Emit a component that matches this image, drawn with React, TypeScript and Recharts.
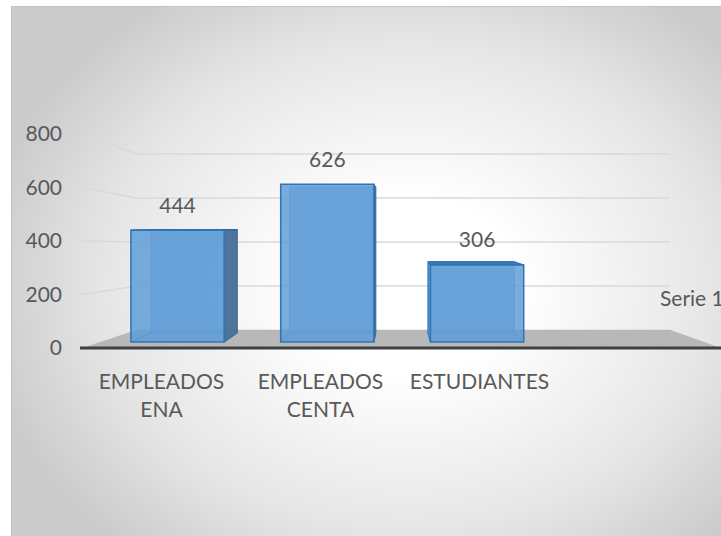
import { BarChart, Bar, XAxis, YAxis, CartesianGrid, LabelList } from 'recharts';

if (typeof document !== 'undefined') document.body.style.margin = '0';

const categories = ['EMPLEADOS ENA', 'EMPLEADOS CENTA', 'ESTUDIANTES'];
const values = [444, 626, 306];
const yTicks = [0, 200, 400, 600, 800];
const seriesName = 'Serie 1';

const data = categories.map((name, i) => ({ name, value: values[i] }));

const FONT = 'Lato, "Open Sans", sans-serif';
const TEXT = '#595959';

// rough perspective of the excel 3d chart
const front = (x: number, y: number) => ({ x: 438 + (x - 438) * 0.942, y: 245 + (y - 245) * 0.942 });
const back = (p: { x: number; y: number }) => ({ x: 398 + (p.x - 398) * 0.925, y: 222 + (p.y - 222) * 0.925 });
const wallY = (y: number) => 241.5 + (y - 240.5) * 0.822;

const pts = (arr: { x: number; y: number }[]) => arr.map((p) => `${p.x},${p.y}`).join(' ');

function renderBox(props: any) {
  const { x, y, width, height } = props;
  if (height == null || height <= 0) return <g />;
  const tl = front(x, y);
  const tr = front(x + width, y);
  const br = front(x + width, y + height);
  const bl = front(x, y + height);
  const btl = back(tl);
  const btr = back(tr);
  const bbr = back(br);
  const bbl = back(bl);
  const edge = '#3a7cc0';
  return (
    <g>
      <polygon points={pts([btl, btr, bbr, bbl])} fill="#6fa6dc" stroke={edge} strokeWidth={1} opacity={0.6} />
      <line x1={bl.x} y1={bl.y} x2={bbl.x} y2={bbl.y} stroke={edge} strokeWidth={1} />
      <line x1={br.x} y1={br.y} x2={bbr.x} y2={bbr.y} stroke={edge} strokeWidth={1} />
      {tr.x < 398 && (
        <polygon points={pts([tr, btr, bbr, br])} fill="#4f7399" stroke="#3f6a95" strokeWidth={1} />
      )}
      {tl.x > 398 && (
        <polygon points={pts([tl, btl, bbl, bl])} fill="#5b9bd5" stroke="#2e75b6" strokeWidth={1} />
      )}
      {tl.y > 222 && (
        <polygon points={pts([tl, tr, btr, btl])} fill="#3f78b5" stroke="#2f6aa8" strokeWidth={1} />
      )}
      <polygon points={pts([tl, tr, br, bl])} fill="#5b9bd5" fillOpacity={0.82} stroke="#2e75b6" strokeWidth={1.5} />
    </g>
  );
}

function renderValueLabel(props: any) {
  const { x, y, width, value } = props;
  const p = front(x + width / 2, y);
  return (
    <text x={p.x} y={p.y - 25} dy="0.36em" textAnchor="middle" fill={TEXT} fontFamily={FONT} fontSize={21}>
      {value}
    </text>
  );
}

function renderGridLine(props: any) {
  const { x1, x2, y1, index } = props;
  const by = wallY(y1);
  const bx1 = x1 + 55;
  const bx2 = x2 - 48;
  if (y1 >= 347) {
    return (
      <g key={`g-${index}`}>
        <polygon points={`${x1},${y1} ${bx1},${by} ${bx2},${by} ${x2 + 3},${y1}`} fill="#b8b8b8" />
        <line x1={x1 - 2} y1={y1} x2={x2 + 3} y2={y1} stroke="#404040" strokeWidth={3} />
        <text x={660} y={306} fill={TEXT} fontFamily={FONT} fontSize={21}>
          {seriesName}
        </text>
      </g>
    );
  }
  return (
    <polyline
      key={`g-${index}`}
      points={`${x1},${y1} ${bx1},${by} ${bx2},${by}`}
      fill="none"
      stroke="#d9d9d9"
      strokeWidth={1.5}
    />
  );
}

function renderCategoryTick(props: any) {
  const { x, y, payload } = props;
  const lines = String(payload.value).split(' ');
  return (
    <text x={x} y={y} textAnchor="middle" fill={TEXT} fontFamily={FONT} fontSize={21}>
      {lines.map((l, i) => (
        <tspan key={i} x={x} dy={i === 0 ? 33 : 28}>
          {l}
        </tspan>
      ))}
    </text>
  );
}

export default function App() {
  return (
    <div style={{ position: 'relative', width: 721, height: 536, overflow: 'hidden' }}>
      <div
        style={{
          position: 'absolute',
          left: 11,
          top: 6,
          width: 721,
          height: 536,
          borderLeft: '1px solid #c4c4c4',
          borderTop: '1px solid #c4c4c4',
          background: 'radial-gradient(ellipse 60% 65% at 55% 52%, #ffffff 25%, #e6e6e6 70%, #cbcbcb 100%)',
        }}
      />
      <div style={{ position: 'absolute', left: 0, top: 0 }}>
        <BarChart width={721} height={536} data={data} margin={{ top: 134, right: 3, bottom: 128, left: 0 }}>
          <CartesianGrid vertical={false} horizontal={renderGridLine} />
          <XAxis
            dataKey="name"
            axisLine={false}
            tickLine={false}
            height={60}
            padding={{ left: 0, right: 159 }}
            interval={0}
            tick={renderCategoryTick}
          />
          <YAxis
            domain={[0, 800]}
            ticks={yTicks}
            width={82}
            axisLine={false}
            tickLine={false}
            tickSize={0}
            tickMargin={20}
            tick={{ fill: TEXT, fontFamily: FONT, fontSize: 21 }}
          />
          <Bar dataKey="value" barSize={99} shape={renderBox} isAnimationActive={false}>
            <LabelList dataKey="value" content={renderValueLabel} />
          </Bar>
        </BarChart>
      </div>
    </div>
  );
}
